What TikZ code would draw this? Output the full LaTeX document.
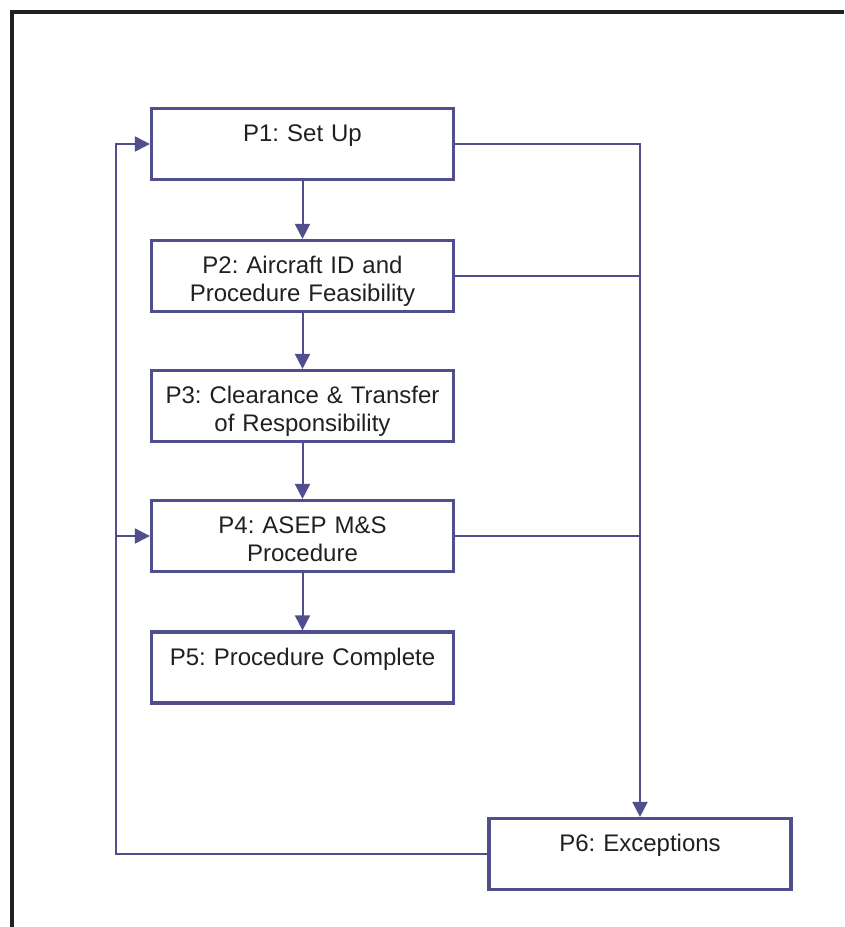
\documentclass[tikz,border=0pt]{standalone}
\usepackage{fontspec}
\setmainfont{Liberation Sans}
\frenchspacing
\usetikzlibrary{arrows.meta}
\definecolor{procblue}{RGB}{80,78,140}
\definecolor{inkgray}{RGB}{35,31,32}
\begin{document}
\begin{tikzpicture}[x=1pt, y=-1pt,
        procbox/.style={draw=procblue, line width=3.2pt, inner sep=0pt, text width=302pt,
            align=center, text height=33pt, text depth=38pt, text=inkgray,
            font=\fontsize{24}{27.5}\selectfont},
        conn/.style={draw=procblue, line width=2pt},
        arr/.style={conn, -{Triangle[length=15pt, width=15pt]}}]
        \useasboundingbox (0,0) rectangle (844,927);
        % outer frame
        \draw[inkgray, line width=4pt] (12,927) -- (12,12) -- (844,12);
        % process boxes
        \node[procbox] (p1) at (302.5,144) {P1: Set Up};
        \node[procbox] (p2) at (302.5,276) {P2: Aircraft ID and\\Procedure Feasibility};
        \node[procbox] (p3) at (302.5,406) {P3: Clearance \& Transfer\\of Responsibility};
        \node[procbox] (p4) at (302.5,536) {P4: ASEP M\&S\\Procedure};
        \node[procbox] (p5) at (302.5,667.5) {P5: Procedure Complete};
        \node[procbox] (p6) at (640,854) {P6: Exceptions};
        % main flow
        \draw[arr] (p1) -- (p2);
        \draw[arr] (p2) -- (p3);
        \draw[arr] (p3) -- (p4);
        \draw[arr] (p4) -- (p5);
        % exceptions
        \draw[arr] (p1.east) -| (p6.north);
        \draw[conn] (p2.east) -- (p2.east -| p6.north);
        \draw[conn] (p4.east) -- (p4.east -| p6.north);
        % return paths
        \coordinate (back) at (116,854);
        \draw[arr] (p6.west) -- (back) |- (p1.west);
        \draw[arr] (back |- p4.west) -- (p4.west);
    \end{tikzpicture}
\end{document}
